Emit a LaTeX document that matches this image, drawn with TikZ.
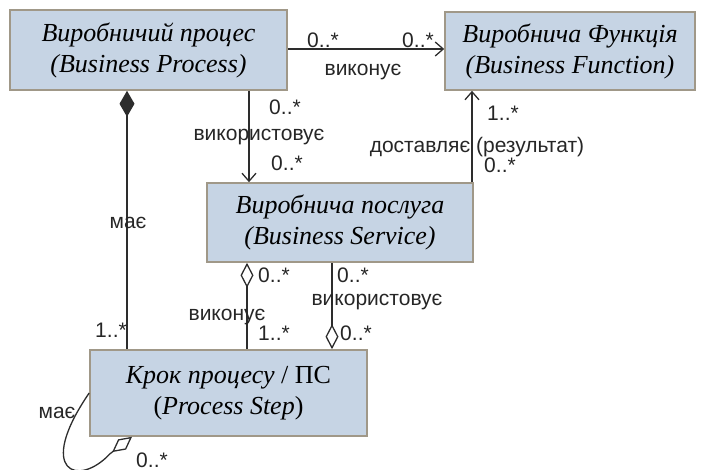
\documentclass[tikz,border=0pt]{standalone}
\usepackage{fontspec}
\setmainfont{Liberation Serif}
\newfontfamily\labfont{Liberation Sans}
\usetikzlibrary{positioning,calc,arrows.meta}
\definecolor{boxfill}{RGB}{198,212,228}
\definecolor{boxline}{RGB}{160,152,136}
\definecolor{wire}{RGB}{45,45,45}
\tikzset{
  cls/.style={draw=boxline, fill=boxfill, line width=0.8pt, align=center,
    font=\fontsize{13}{15.5}\selectfont\itshape, inner sep=0pt},
  lbl/.style={font=\labfont\fontsize{10.5}{12}\selectfont, inner sep=0pt, text=black!85},
  assoc/.style={draw=wire, line width=0.65pt},
  comp/.style={assoc, {Diamond[length=13pt,width=7.5pt]}-},
  aggr/.style={assoc, {Diamond[open,length=12.5pt,width=6.5pt]}-},
  nav/.style={assoc, -{Straight Barb[length=4pt,width=7pt]}},
}

\begin{document}
\begin{tikzpicture}[x=0.5pt,y=-0.5pt]
    \useasboundingbox (0,0) rectangle (708,470);
    % Classes
    \node[cls, minimum width=138.5pt, minimum height=40pt] (bp) at (148.5,50) {Виробничий процес\\(Business Process)};
    \node[cls, minimum width=125pt, minimum height=39pt] (bf) at (570,51) {Виробнича Функція\\(Business Function)};
    \node[cls, minimum width=133pt, minimum height=39.5pt] (bs) at (340,222.5) {Виробнича послуга\\(Business Service)};
    \node[cls, minimum width=138.5pt, minimum height=43pt] (ps) at (228.5,393) {Крок процесу \textup{/ ПС}\\\textup{(}Process Step\textup{)}};
    % Process -> Function
    \draw[nav] (bp.east |- 0,49) -- (bf.west |- 0,49);
    \node[lbl] (m1) at (323,40) {0..*};
    \node[lbl] (m2) at (418,40) {0..*};
    \node[lbl] (r1) at (363,72) {виконує};
    % Process -> Service
    \draw[nav] (bp.south -| 249,0) -- (bs.north -| 249,0);
    \node[lbl] (m3) at (285,107) {0..*};
    \node[lbl] (r2) at (259,137) {використовує};
    \node[lbl] (m4) at (287,163) {0..*};
    % Service -> Function
    \draw[nav] (bs.north -| 472,0) -- (bf.south -| 472,0);
    \node[lbl] (m5) at (503,113) {1..*};
    \node[lbl] (r3) at (477,147) {доставляє (результат)};
    \node[lbl] (m6) at (500,165) {0..*};
    % Process <>- Step
    \draw[comp] (bp.south -| 127,0) -- (ps.north -| 127,0);
    \node[lbl] (r4) at (128,223) {має};
    \node[lbl] (m7) at (111,330) {1..*};
    % Service <>- Step (виконує)
    \draw[aggr] (bs.south -| 247,0) -- (ps.north -| 247,0);
    \node[lbl] (m8) at (274,275) {0..*};
    \node[lbl] (r5) at (227,317) {виконує};
    \node[lbl] (m9) at (274,333) {1..*};
    % Step <>- Service (використовує)
    \draw[aggr] (ps.north -| 332,0) -- (bs.south -| 332,0);
    \node[lbl] (m10) at (353,275) {0..*};
    \node[lbl] (r6) at (377,302) {використовує};
    \node[lbl] (m11) at (356,333) {0..*};
    % Step self-aggregation
    \draw[aggr] (ps.south -| 132,0) -- ++(-22,17) .. controls (78,488) and (35,472) .. (ps.west |- 0,393);
    \node[lbl] (r7) at (57,413) {має};
    \node[lbl] (m12) at (152,460) {0..*};
\end{tikzpicture}
\end{document}
